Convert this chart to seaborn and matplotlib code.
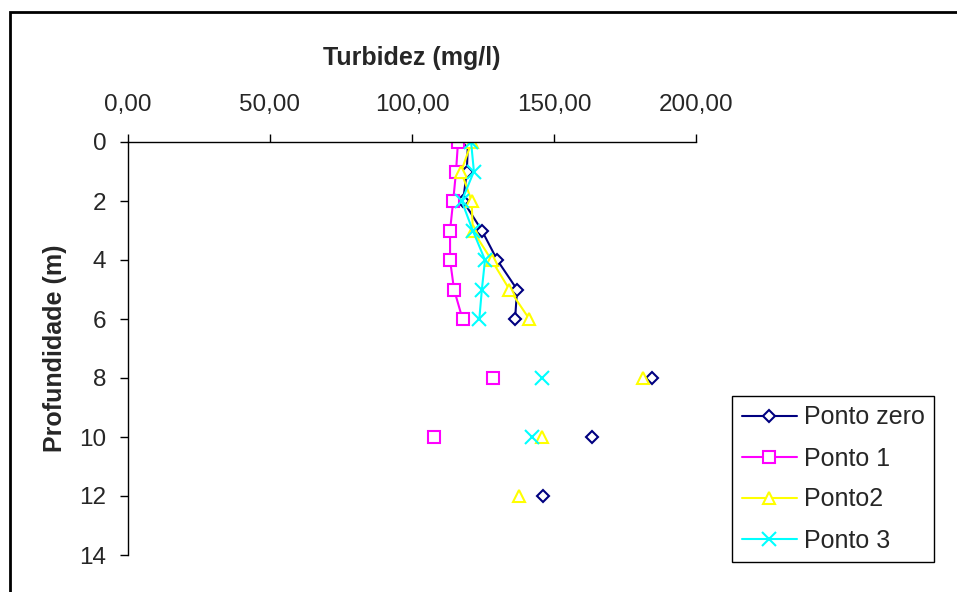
import numpy as np
import pandas as pd
import matplotlib
matplotlib.use("Agg")
import matplotlib.pyplot as plt
from matplotlib.lines import Line2D
from matplotlib.patches import Rectangle
from matplotlib.ticker import FuncFormatter
import seaborn as sns

depths = [0, 1, 2, 3, 4, 5, 6, 8, 10, 12]
series_names = ["Ponto zero", "Ponto 1", "Ponto2", "Ponto 3"]
ponto_zero = [119.7, 119.3, 118.0, 124.6, 130.0, 137.0, 136.3, 184.5, 163.4, 146.0]
ponto_1 = [116.2, 115.5, 114.5, 113.4, 113.4, 114.8, 117.8, 128.4, 107.8, np.nan]
ponto_2 = [121.0, 117.3, 121.0, 121.4, 128.0, 134.3, 141.3, 181.4, 145.7, 137.7]
ponto_3 = [120.8, 121.8, 117.5, 121.4, 125.7, 124.6, 123.7, 145.7, 142.1, np.nan]
x_ticks = [0, 50, 100, 150, 200]
y_ticks = [0, 2, 4, 6, 8, 10, 12, 14]

colors = ["#000080", "#FF00FF", "#FFFF00", "#00FFFF"]
markers = ["D", "s", "^", "x"]
msizes = [6.5, 8, 8.5, 10]

sns.set_style("white")
plt.rcParams["font.family"] = ["Liberation Sans", "DejaVu Sans"]

fig = plt.figure(figsize=(9.57, 5.92), dpi=100)
ax = fig.add_axes([128/957, 1-555/592, (696-128)/957, (555-142)/592])

rows = []
for name, vals in zip(series_names, [ponto_zero, ponto_1, ponto_2, ponto_3]):
    for d, v in zip(depths, vals):
        seg = 0 if d <= 6 else d
        rows.append({"serie": name, "depth": d, "val": v, "seg": seg})
df = pd.DataFrame(rows)

handles = []
for name, c, m, ms in zip(series_names, colors, markers, msizes):
    sub = df[(df.serie == name)].dropna()
    sns.lineplot(data=sub, x="val", y="depth", units="seg", estimator=None,
                 orient="y", color=c, marker=m, markersize=ms,
                 markeredgecolor=c, markerfacecolor="white" if m != "x" else c,
                 markeredgewidth=1.5, linewidth=1.5, legend=False, ax=ax)
    handles.append(Line2D([], [], color=c, marker=m, markersize=ms,
                          markeredgecolor=c, markerfacecolor="white",
                          markeredgewidth=1.5, linewidth=1.5, label=name))

ax.set_xlim(0, 200)
ax.set_ylim(14, 0)
ax.set_xticks(x_ticks)
ax.set_yticks(y_ticks)
ax.xaxis.set_major_formatter(FuncFormatter(lambda v, p: f"{v:.2f}".replace(".", ",")))
ax.xaxis.tick_top()
ax.xaxis.set_label_position("top")
for s in ["right", "bottom"]:
    ax.spines[s].set_visible(False)
for s in ["top", "left"]:
    ax.spines[s].set_color("black")
    ax.spines[s].set_linewidth(1.0)
ax.tick_params(axis="both", direction="out", length=6, width=1.0, color="black",
               labelsize=17.5)
ax.tick_params(axis="x", top=True, bottom=False, pad=12.5)
ax.tick_params(axis="y", left=True, pad=9.5)
ax.set_xlabel("Turbidez (mg/l)", fontsize=18, fontweight="bold", labelpad=21)
ax.set_ylabel("Profundidade (m)", fontsize=18, fontweight="bold", labelpad=9)

leg = fig.legend(handles=handles, loc="upper left",
                 bbox_to_anchor=(732/957, 1-396/592), borderaxespad=0,
                 frameon=True, fancybox=False, edgecolor="black", framealpha=1,
                 fontsize=18, handlelength=2.2, handletextpad=0.28,
                 labelspacing=0.68, borderpad=0.38)
leg.get_frame().set_linewidth(1.0)

fig.patches.append(Rectangle((10/957, -0.2), 1.2, 1-12/592+0.2,
                             transform=fig.transFigure, fill=False,
                             edgecolor="black", linewidth=2.0))

fig.savefig("out.png", dpi=100)
